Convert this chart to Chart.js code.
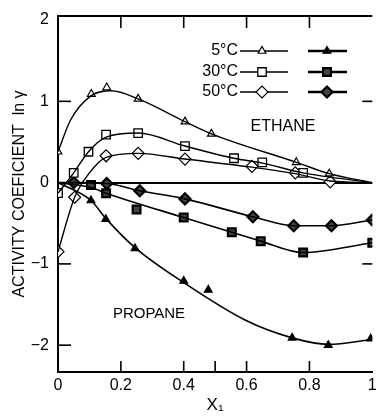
<!DOCTYPE html>
<html>
<head>
<meta charset="utf-8">
<script src="https://cdn.jsdelivr.net/npm/chart.js"></script>
<style>
  html, body { margin: 0; padding: 0; background: #fff; }
</style>
</head>
<body>
<canvas id="chart" width="380" height="416"></canvas>
<script>
// axis ticks
const xTicks = [0, 0.2, 0.4, 0.6, 0.8, 1];
const yTicks = [-2, -1, 0, 1, 2];
const temps = ['5°C', '30°C', '50°C'];

// measured points, ethane (open symbols)
const ethane5 = [[0, 0.38], [0.106, 1.09], [0.155, 1.17], [0.255, 1.03], [0.404, 0.75], [0.488, 0.60], [0.758, 0.25], [0.863, 0.11]];
const ethane30 = [[0, -0.13], [0.05, 0.12], [0.097, 0.38], [0.153, 0.59], [0.255, 0.61], [0.404, 0.45], [0.56, 0.30], [0.65, 0.25], [0.78, 0.12]];
const ethane50 = [[0, -0.85], [0.053, -0.18], [0.153, 0.33], [0.255, 0.36], [0.404, 0.29], [0.617, 0.20], [0.755, 0.12], [0.866, 0.01]];

// measured points, propane (filled symbols)
const propane5 = [[0.105, -0.22], [0.152, -0.45], [0.245, -0.81], [0.40, -1.21], [0.478, -1.32], [0.745, -1.91], [0.86, -2.0], [0.995, -1.92]];
const propane30 = [[0.105, -0.03], [0.153, -0.13], [0.25, -0.33], [0.40, -0.43], [0.553, -0.61], [0.645, -0.72], [0.78, -0.86], [1.0, -0.74]];
const propane50 = [[0.05, 0.0], [0.155, -0.01], [0.26, -0.10], [0.404, -0.20], [0.62, -0.42], [0.75, -0.53], [0.87, -0.53], [1.0, -0.46]];

// smoothed curves as drawn in the figure
const ethane5Curve = [[0, 0.38], [0.04, 0.77], [0.106, 1.07], [0.17, 1.13], [0.255, 1.03], [0.404, 0.75], [0.488, 0.60], [0.758, 0.25], [0.863, 0.11], [1, 0]];
const ethane30Curve = [[0, -0.13], [0.05, 0.12], [0.097, 0.38], [0.153, 0.56], [0.255, 0.61], [0.404, 0.45], [0.56, 0.30], [0.65, 0.24], [0.78, 0.12], [1, 0]];
const ethane50Curve = [[0, -0.85], [0.053, -0.18], [0.1, 0.12], [0.153, 0.31], [0.255, 0.36], [0.404, 0.29], [0.617, 0.19], [0.755, 0.11], [0.866, 0.02], [1, 0]];
const propane5Curve = [[0, 0], [0.105, -0.22], [0.152, -0.44], [0.245, -0.80], [0.40, -1.23], [0.6, -1.70], [0.745, -1.91], [0.86, -1.99], [1, -1.93]];
const propane30Curve = [[0, 0], [0.105, -0.06], [0.153, -0.13], [0.40, -0.43], [0.553, -0.61], [0.645, -0.72], [0.78, -0.86], [1, -0.74]];
const propane50Curve = [[0, 0], [0.05, 0.0], [0.155, -0.01], [0.26, -0.10], [0.404, -0.20], [0.62, -0.42], [0.75, -0.53], [0.87, -0.53], [1, -0.46]];

const FONT = "'Liberation Sans', Arial, 'DejaVu Sans', sans-serif";
Chart.defaults.font.family = FONT;
Chart.defaults.font.size = 16;
Chart.defaults.color = '#000';

const openStyles = [
    { style: 'triangle', radius: 4.5, fill: '#fff', lw: 1.2 },
    { style: 'rect', radius: 6, fill: '#fff', lw: 1.3 },
    { style: 'rectRot', radius: 6, fill: '#fff', lw: 1.2 }
];
const filledStyles = [
    { style: 'triangle', radius: 4.5, fill: '#000', lw: 1.2 },
    { style: 'rect', radius: 5.5, fill: '#444', lw: 2.2 },
    { style: 'rectRot', radius: 5.5, fill: '#444', lw: 2.2 }
];

const toXY = arr => arr.map(([x, y]) => ({ x, y }));

function curveSet(arr, w) {
    return {
        data: toXY(arr), showLine: true, pointRadius: 0, borderColor: '#000',
        borderWidth: w, cubicInterpolationMode: 'monotone', fill: false
    };
}
function markerSet(arr, m) {
    return {
        data: toXY(arr), showLine: false, pointStyle: m.style, pointRadius: m.radius,
        pointBackgroundColor: m.fill, pointBorderColor: '#000', pointBorderWidth: m.lw
    };
}

function drawMarker(ctx, m, x, y) {
    const r = m.radius;
    ctx.beginPath();
    if (m.style === 'triangle') {
        for (let i = 0; i < 3; i++) {
            const a = i * 2 * Math.PI / 3;
            const px = x + Math.sin(a) * r, py = y - Math.cos(a) * r;
            i ? ctx.lineTo(px, py) : ctx.moveTo(px, py);
        }
        ctx.closePath();
    } else if (m.style === 'rect') {
        const s = r * Math.SQRT1_2;
        ctx.rect(x - s, y - s, 2 * s, 2 * s);
    } else {
        ctx.moveTo(x - r, y); ctx.lineTo(x, y - r); ctx.lineTo(x + r, y); ctx.lineTo(x, y + r);
        ctx.closePath();
    }
    ctx.fillStyle = m.fill;
    ctx.fill();
    ctx.lineWidth = m.lw;
    ctx.strokeStyle = '#000';
    ctx.stroke();
}

const decor = {
    id: 'decor',
    afterDraw(chart) {
        const { ctx, chartArea: a, scales: { x, y } } = chart;
        const seg = (x1, y1, x2, y2) => { ctx.beginPath(); ctx.moveTo(x1, y1); ctx.lineTo(x2, y2); ctx.stroke(); };
        ctx.save();
        ctx.strokeStyle = '#000';
        ctx.lineWidth = 2;
        seg(a.left, a.top, a.right, a.top);

        // inward tick marks
        ctx.lineWidth = 1.6;
        [0.2, 0.4, 0.5, 0.6, 0.8].forEach(v => { const p = x.getPixelForValue(v); seg(p, a.bottom, p, a.bottom - 11); });
        [0.2, 0.4, 0.6, 0.8].forEach(v => { const p = x.getPixelForValue(v); seg(p, a.top, p, a.top + 12); });
        [1, -1, -2].forEach(v => { const p = y.getPixelForValue(v); seg(a.left, p, a.left + 13, p); });
        [1, -1].forEach(v => { const p = y.getPixelForValue(v); seg(a.right - 10, p, a.right, p); });

        // curve labels
        ctx.fillStyle = '#000';
        ctx.textAlign = 'center';
        ctx.textBaseline = 'middle';
        ctx.font = '16px ' + FONT;
        ctx.fillText('ETHANE', 283, 127);
        ctx.font = '15px ' + FONT;
        ctx.fillText('PROPANE', 149, 314);

        // legend
        const rows = [51, 72, 92];
        ctx.font = '16px ' + FONT;
        ctx.textAlign = 'right';
        rows.forEach((ry, i) => {
            ctx.fillStyle = '#000';
            ctx.fillText(temps[i], 238, ry);
            ctx.lineWidth = 1.4;
            seg(240, ry, 288, ry);
            drawMarker(ctx, openStyles[i], 262, ry);
            ctx.lineWidth = 2.4;
            seg(308, ry, 347, ry);
            drawMarker(ctx, filledStyles[i], 327, ry);
        });
        ctx.restore();
    }
};

const datasets = [
    curveSet(ethane5Curve, 1.4), curveSet(ethane30Curve, 1.4), curveSet(ethane50Curve, 1.4),
    curveSet(propane5Curve, 1.6), curveSet(propane30Curve, 1.6), curveSet(propane50Curve, 1.6),
    markerSet(ethane5, openStyles[0]), markerSet(ethane30, openStyles[1]), markerSet(ethane50, openStyles[2]),
    markerSet(propane5, filledStyles[0]), markerSet(propane30, filledStyles[1]), markerSet(propane50, filledStyles[2])
];

new Chart(document.getElementById('chart'), {
    type: 'scatter',
    data: { datasets },
    options: {
        responsive: false,
        animation: false,
        events: [],
        layout: { padding: { top: 16, right: 1, left: 0, bottom: 0 } },
        plugins: { legend: { display: false }, tooltip: { enabled: false } },
        scales: {
            x: {
                type: 'linear', min: 0, max: 1,
                afterBuildTicks: s => { s.ticks = xTicks.map(v => ({ value: v })); },
                afterFit: s => { s.height = 44; s.paddingLeft = 0; s.paddingRight = 0; },
                grid: { display: false, drawTicks: false },
                border: { display: true, color: '#000', width: 2 },
                ticks: {
                    padding: 4, maxRotation: 0, autoSkip: false,
                    callback: v => (v === 0 || v === 1) ? String(v) : v.toFixed(1)
                },
                title: { display: true, text: 'X₁', font: { size: 17 }, padding: { top: 0, bottom: 0 } }
            },
            y: {
                type: 'linear', min: -2.33, max: 2.05,
                afterBuildTicks: s => { s.ticks = yTicks.map(v => ({ value: v })); },
                afterFit: s => { s.width = 58; s.paddingTop = 0; s.paddingBottom = 0; },
                grid: {
                    drawTicks: false, lineWidth: 2,
                    color: c => (c.tick && c.tick.value === 0) ? '#000' : 'rgba(0,0,0,0)'
                },
                border: { display: true, color: '#000', width: 2 },
                ticks: { padding: 9, callback: v => v < 0 ? '−' + Math.abs(v) : String(v) },
                title: { display: true, text: 'ACTIVITY COEFICIENT  ln γ', padding: { top: 10, bottom: 0 } }
            }
        }
    },
    plugins: [decor]
});
</script>
</body>
</html>
